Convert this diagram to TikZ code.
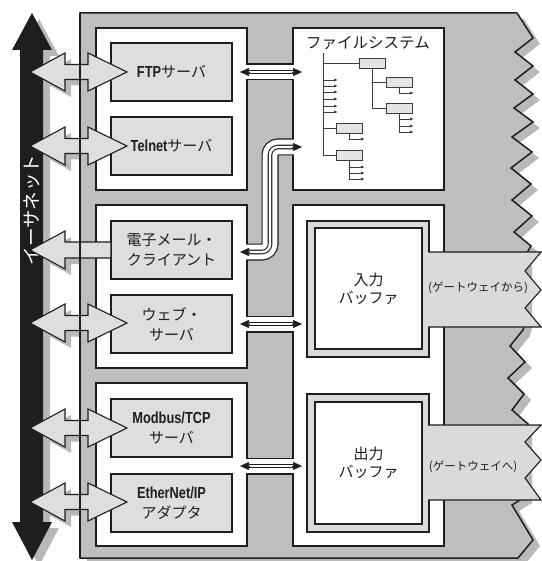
\documentclass[tikz,border=0pt]{standalone}
\usepackage{fontspec}
\setmainfont{Noto Sans CJK JP}
\newfontfamily\lbf[FakeStretch=0.8]{Liberation Sans}
\usetikzlibrary{arrows.meta}
\definecolor{bodyg}{RGB}{190,190,190}
\definecolor{shadowg}{RGB}{185,185,185}
\definecolor{boxg}{RGB}{222,222,222}
\definecolor{bandg}{RGB}{218,218,218}
\definecolor{ink}{RGB}{30,30,30}
\definecolor{treeln}{RGB}{60,60,60}
\definecolor{tboxg}{RGB}{228,228,228}
\newcommand\LB[1]{{\lbf\bfseries\fontsize{16}{20}\selectfont #1}}
\newcommand\bodyshape[1]{\path[#1] (80,13) -- (517,13) -- (533,38) -- (515,52) -- (533,66) -- (515,80) -- (533,94) -- (514,108) -- (533,122) -- (512,137) -- (532,152) -- (511,168) -- (531,184) -- (512,200) -- (532,216) -- (514,232) -- (531,246) -- (525,256) -- (525,322) -- (523,330) -- (510,346) -- (525,362) -- (508,378) -- (524,394) -- (512,410) -- (528,424) -- (525,430) -- (525,497) -- (512,505) -- (533,540) -- (518,558) -- (80,558) -- cycle;}
\newcommand\ethshape[1]{\path[#1] (32,13) -- (52,50) -- (43,50) -- (43,522) -- (52,522) -- (32,560) -- (12,522) -- (20,522) -- (20,50) -- (12,50) -- cycle;}
\newcommand\harrow[2]{\path[#1] (30,#2) -- ++(35,-19) -- ++(0,11.5) -- ++(23,0) -- ++(0,-11.5) -- ++(39,19) -- ++(-39,19) -- ++(0,-11.5) -- ++(-23,0) -- ++(0,11.5) -- cycle;}
\newcommand\larrow[2]{\path[#1] (30,#2) -- ++(35,-19) -- ++(0,11) -- ++(46,0) -- ++(0,16) -- ++(-46,0) -- ++(0,11) -- cycle;}
\begin{document}
\begin{tikzpicture}[x=1pt,y=-1pt,
  srv/.style={draw=ink,fill=boxg,line width=1.1pt,minimum width=121pt,minimum height=58pt,inner sep=0pt,align=center,text=ink,font=\fontsize{15}{20}\selectfont},
  panel/.style={draw=ink,fill=white,line width=1.2pt,minimum width=151pt,inner sep=0pt},
  tbox/.style={draw=treeln,fill=tboxg,line width=0.7pt,minimum width=26pt,minimum height=10pt,inner sep=0pt},
  tl/.style={draw=treeln,line width=0.8pt},
  ta/.style={tl,-{Latex[length=4pt,width=3pt]}},
  chanout/.style={ink,line width=17pt},
  chanin/.style={white,line width=14.6pt},
  shafto/.style={ink,line width=4.6pt},
  shafti/.style={white,line width=2.4pt},
  head/.style={ink,line width=0.6pt,-{Triangle[length=9pt,width=8pt]}},
  bandstyle/.style={fill=bandg},
  bufframe/.style={draw=ink,fill=bandg,line width=1.1pt,minimum width=122pt,inner sep=0pt},
  bufin/.style={draw=ink,fill=white,line width=1.1pt,minimum width=107pt,inner sep=0pt,align=center,text=ink,font=\fontsize{15}{18}\selectfont},
]
\useasboundingbox (0,0) rectangle (541,561);
% shadows
\bodyshape{fill=shadowg,shift={(7,6)}}
\ethshape{fill=shadowg,shift={(7,6)}}
\foreach \c in {72,146,323,428,502} {\harrow{fill=shadowg,shift={(6,6)}}{\c}}
\larrow{fill=shadowg,shift={(6,6)}}{250}
% ethernet arrow
\ethshape{fill=ink}
% body
\bodyshape{fill=bodyg,draw=ink,line width=1.5pt,line join=miter}
% panels
\node[panel,minimum height=162pt] (pA) at (171.5,109) {};
\node[panel,minimum height=163pt] (pB) at (171.5,286.5) {};
\node[panel,minimum height=163pt] (pC) at (171.5,464.5) {};
\node[panel,minimum height=162pt] (pF) at (368.5,109) {};
\node[panel,minimum height=341pt] (pR) at (368.5,375.5) {};
% channels
\foreach \c in {72,324,466} {
  \draw[chanout] (247,\c) -- (293,\c);
  \draw[chanin] (245.5,\c) -- (294.5,\c);
}
\draw[chanout,rounded corners=8pt] (247,252) -| (270,147) -- (293,147);
\draw[chanin,rounded corners=8pt] (245.5,252) -| (270,147) -- (294.5,147);
% file system
\node[text=ink,font=\fontsize{15.5}{18}\selectfont,inner sep=0pt] (fst) at (368,43) {ファイルシステム};
\node[tbox] (b1) at (372,63) {};
\node[tbox] (b2) at (399,82) {};
\node[tbox] (b3) at (399,108) {};
\node[tbox] (b4) at (349,128) {};
\node[tbox] (b5) at (349,155) {};
\draw[tl] (323,53) |- (b5.west);
\draw[tl] (323,63) -- (b1.west);
\draw[tl] (323,128) -- (b4.west);
\draw[tl] (b1.south) |- (b3.west);
\draw[tl] (372,82) -- (b2.west);
\foreach \yy in {80,86,92,99,106,112} {\draw[ta] (323,\yy) -- (338,\yy);}
\draw[ta] (b2.south) |- (414,93);
\draw[ta] (b3.south) |- (414,132);
\foreach \yy in {119,126} {\draw[ta] (399,\yy) -- (414,\yy);}
\draw[ta] (b4.south) |- (365,139);
\draw[ta] (b5.south) |- (365,179);
\foreach \yy in {167,173} {\draw[ta] (349,\yy) -- (365,\yy);}
% server boxes
\node[srv] (ftp) at (171.5,72) {\LB{FTP}サーバ};
\node[srv] (tel) at (171.5,146) {\LB{Telnet}サーバ};
\node[srv] (mail) at (171.5,250) {電子メール・\\クライアント};
\node[srv] (web) at (171.5,324) {ウェブ・\\サーバ};
\node[srv] (mod) at (171.5,428) {\LB{Modbus/TCP}\\サーバ};
\node[srv] (eip) at (171.5,503) {\LB{EtherNet/IP}\\アダプタ};
% buffers and bands
\node[bufframe,minimum height=136pt] (inF) at (368,289) {};
\node[bufframe,minimum height=138pt] (outF) at (368,463) {};
\path[bandstyle] (427.6,252) -- (541,252) -- (525,271) -- (541,290) -- (525,308) -- (541,327) -- (427.6,327) -- cycle;
\draw[ink,line width=1.1pt,line join=miter] (428,252) -- (541,252) -- (525,271) -- (541,290) -- (525,308) -- (541,327) -- (428,327);
\path[bandstyle] (427.6,425) -- (541,425) -- (525,442) -- (541,460) -- (525,478) -- (541,500) -- (427.6,500) -- cycle;
\draw[ink,line width=1.1pt,line join=miter] (428,425) -- (541,425) -- (525,442) -- (541,460) -- (525,478) -- (541,500) -- (428,500);
\node[bufin,minimum height=121pt] (inB) at (368.5,288.5) {入力\\バッファ};
\node[bufin,minimum height=122pt] (outB) at (368.5,463) {出力\\バッファ};
\node[text=ink,font=\fontsize{11.5}{14}\selectfont,inner sep=0pt] (gwin) at (478,288) {(ゲートウェイから)};
\node[text=ink,font=\fontsize{11.5}{14}\selectfont,inner sep=0pt] (gwout) at (473,467) {(ゲートウェイへ)};
% double-line arrows
\foreach \c in {72,324,466} {
  \draw[shafto] (249,\c) -- (293,\c);
  \draw[shafti] (249,\c) -- (293,\c);
  \draw[head] (250,\c) -- (240,\c);
  \draw[head] (292,\c) -- (302,\c);
}
\draw[shafto,rounded corners=8pt] (249,252) -| (270,147) -- (293,147);
\draw[shafti,rounded corners=8pt] (249,252) -| (270,147) -- (293,147);
\draw[head] (250,252) -- (240,252);
\draw[head] (292,147) -- (302,147);
% ethernet label
\node[rotate=90,text=white,font=\fontsize{18.5}{18.5}\selectfont,inner sep=0pt] (ethl) at (32,210) {イーサネット};
% horizontal arrows
\foreach \c in {72,146,323,428,502} {\harrow{fill=boxg,draw=ink,line width=1.1pt,line join=miter}{\c}}
\larrow{fill=boxg,draw=ink,line width=1.1pt,line join=miter}{250}
\draw[ink,line width=1.5pt] (80,13) -- (80,558);
\end{tikzpicture}
\end{document}
